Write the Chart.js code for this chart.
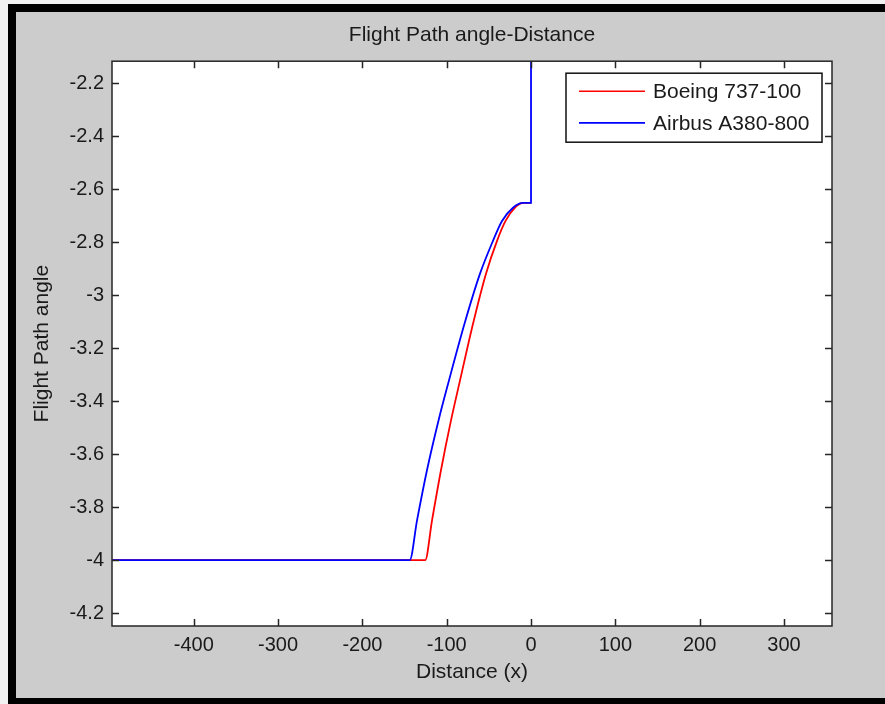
<!DOCTYPE html>
<html>
<head>
<meta charset="utf-8">
<script src="https://cdn.jsdelivr.net/npm/chart.js@4.4.1/dist/chart.umd.min.js"></script>
<style>
  html, body { margin: 0; padding: 0; background: #f2f2f2; }
  #frame { position: absolute; left: 8px; top: 4px; width: 877px; height: 700px; background: #000; }
  #fig { position: absolute; left: 8px; top: 8px; width: 869px; height: 686px; background: #cccccc; }
  canvas { display: block; }
</style>
</head>
<body>
<div id="frame"><div id="fig"><canvas id="flightChart" width="869" height="686"></canvas></div></div>
<script>
// values
var boeingX = [-497, -125.5, -117.4, -106.8, -94.9, -84.2, -68.8, -53.4, -40.3, -30.2, -19.0, -9.5, 0];
var boeingY = [-4, -4, -3.85, -3.661, -3.473, -3.322, -3.108, -2.919, -2.795, -2.72, -2.67, -2.652, -2.652];

var airbusX = [-497, -143.8, -135.2, -123.4, -109.7, -97.3, -78.9, -60.5, -45.1, -34.4, -21.4, -9.5, 0, 0];
var airbusY = [-4, -4, -3.85, -3.661, -3.473, -3.322, -3.108, -2.919, -2.795, -2.72, -2.67, -2.652, -2.652, -2.0];

var xTicks = [-400, -300, -200, -100, 0, 100, 200, 300];
var yTicks = [-4.2, -4, -3.8, -3.6, -3.4, -3.2, -3, -2.8, -2.6, -2.4, -2.2];

var seriesNames = ['Boeing 737-100', 'Airbus A380-800'];

function toPoints(xs, ys) {
    return xs.map(function (x, i) { return { x: x, y: ys[i] }; });
}

var textColor = '#1a1a1a';
var axisColor = '#262626';
Chart.defaults.font.family = "'Liberation Sans', Arial, sans-serif";
Chart.defaults.color = textColor;

// white plot background
var plotBackground = {
    id: 'plotBackground',
    beforeDraw: function (chart) {
        var a = chart.chartArea, ctx = chart.ctx;
        ctx.save();
        ctx.fillStyle = '#ffffff';
        ctx.fillRect(a.left, a.top, a.right - a.left, a.bottom - a.top);
        ctx.restore();
    }
};

// matlab style box with inward ticks, plus the legend box
var boxAndLegend = {
    id: 'boxAndLegend',
    afterDraw: function (chart) {
        var a = chart.chartArea, ctx = chart.ctx;
        var xs = chart.scales.x, ys = chart.scales.y;
        var tl = 7;
        ctx.save();
        ctx.strokeStyle = axisColor;
        ctx.lineWidth = 1.5;
        ctx.beginPath();
        xs.ticks.forEach(function (t) {
            var px = Math.round(xs.getPixelForValue(t.value)) + 0.5;
            ctx.moveTo(px, a.bottom); ctx.lineTo(px, a.bottom - tl);
            ctx.moveTo(px, a.top); ctx.lineTo(px, a.top + tl);
        });
        ys.ticks.forEach(function (t) {
            var py = Math.round(ys.getPixelForValue(t.value)) + 0.5;
            ctx.moveTo(a.left, py); ctx.lineTo(a.left + tl, py);
            ctx.moveTo(a.right, py); ctx.lineTo(a.right - tl, py);
        });
        ctx.stroke();
        ctx.strokeRect(a.left, a.top, a.right - a.left, a.bottom - a.top);

        // legend
        var bw = 256, bh = 69;
        var bx = a.right - 10 - bw, by = a.top + 12;
        ctx.fillStyle = '#ffffff';
        ctx.fillRect(bx, by, bw, bh);
        ctx.strokeStyle = '#111111';
        ctx.lineWidth = 1.5;
        ctx.strokeRect(bx, by, bw, bh);
        ctx.font = "21px 'Liberation Sans', Arial, sans-serif";
        ctx.textBaseline = 'middle';
        ctx.textAlign = 'left';
        chart.data.datasets.forEach(function (ds, i) {
            var ly = by + 18 + i * 31.7;
            ctx.strokeStyle = ds.borderColor;
            ctx.lineWidth = 1.6;
            ctx.beginPath();
            ctx.moveTo(bx + 13, ly); ctx.lineTo(bx + 79, ly);
            ctx.stroke();
            ctx.fillStyle = textColor;
            ctx.fillText(ds.label, bx + 87, ly + 1);
        });
        ctx.restore();
    }
};

var ctx = document.getElementById('flightChart');

new Chart(ctx, {
    type: 'line',
    data: {
        datasets: [{
            label: seriesNames[0],
            data: toPoints(boeingX, boeingY),
            borderColor: '#ff0000',
            borderWidth: 1.8,
            pointRadius: 0,
            cubicInterpolationMode: 'monotone',
            order: 1
        }, {
            label: seriesNames[1],
            data: toPoints(airbusX, airbusY),
            borderColor: '#0000ff',
            borderWidth: 1.8,
            pointRadius: 0,
            cubicInterpolationMode: 'monotone',
            order: 0
        }]
    },
    options: {
        responsive: false,
        animation: false,
        devicePixelRatio: 1,
        layout: {
            padding: { left: 0, right: 53, top: 0, bottom: 0 }
        },
        plugins: {
            legend: { display: false },
            tooltip: { enabled: false },
            title: {
                display: true,
                fullSize: false,
                text: 'Flight Path angle-Distance',
                color: textColor,
                font: { size: 21, weight: 'normal' },
                padding: { top: 11, bottom: 13 }
            }
        },
        scales: {
            x: {
                type: 'linear',
                min: -497,
                max: 357,
                grid: { display: false, drawTicks: false },
                border: { display: false },
                afterBuildTicks: function (scale) {
                    scale.ticks = xTicks.map(function (v) { return { value: v }; });
                },
                afterFit: function (scale) { scale.height = 72; },
                ticks: {
                    color: textColor,
                    font: { size: 20 },
                    padding: 7,
                    maxRotation: 0,
                    autoSkip: false,
                    callback: function (v) { return String(v); }
                },
                title: {
                    display: true,
                    text: 'Distance (x)',
                    color: textColor,
                    font: { size: 21 },
                    padding: { top: 0, bottom: 13 }
                }
            },
            y: {
                type: 'linear',
                min: -4.249,
                max: -2.117,
                grid: { display: false, drawTicks: false },
                border: { display: false },
                afterBuildTicks: function (scale) {
                    scale.ticks = yTicks.map(function (v) { return { value: v }; });
                },
                afterFit: function (scale) { scale.width = 96; },
                ticks: {
                    color: textColor,
                    font: { size: 20 },
                    padding: 8,
                    autoSkip: false,
                    callback: function (v) { return String(v); }
                },
                title: {
                    display: true,
                    text: 'Flight Path angle',
                    color: textColor,
                    font: { size: 21 },
                    padding: { top: 14, bottom: 0 }
                }
            }
        }
    },
    plugins: [plotBackground, boxAndLegend]
});
</script>
</body>
</html>
